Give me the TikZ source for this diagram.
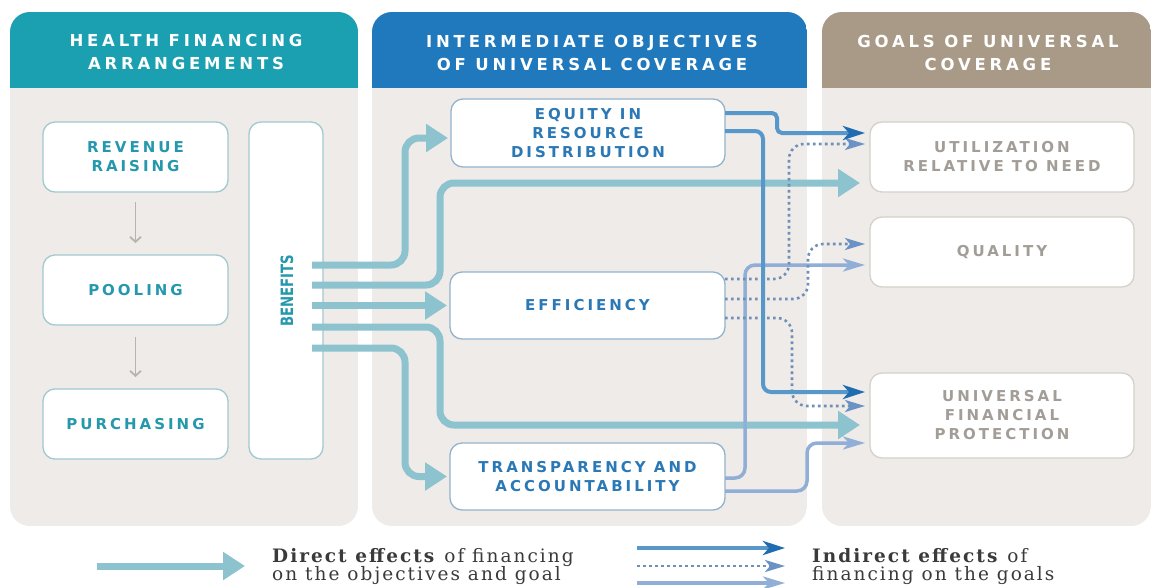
\documentclass[tikz,border=0pt]{standalone}
\usepackage{fontspec}
\usetikzlibrary{arrows.meta}
\newfontfamily\hfont[LetterSpace=23]{DejaVu Sans Bold}
\newfontfamily\bfont[LetterSpace=20]{DejaVu Sans Bold}
\newfontfamily\cfont{DejaVu Sans Bold}
\newfontfamily\sfont[LetterSpace=11]{DejaVu Serif}
\definecolor{hteal}{HTML}{1BA0B2}
\definecolor{hblue}{HTML}{1F79BC}
\definecolor{htaupe}{HTML}{A89A87}
\definecolor{panelbg}{HTML}{EEEBE8}
\definecolor{lbord}{HTML}{A2C9D0}
\definecolor{ltext}{HTML}{2598AD}
\definecolor{mbord}{HTML}{93B3CD}
\definecolor{mtext}{HTML}{2A78B5}
\definecolor{rbord}{HTML}{D5D0CA}
\definecolor{rtext}{HTML}{A29D97}
\definecolor{dircol}{HTML}{8CC3CE}
\definecolor{indline}{HTML}{5897C9}
\definecolor{indtip}{HTML}{1F6DB0}
\definecolor{dotcol}{HTML}{6F8FB8}
\definecolor{dottip}{HTML}{6A92C5}
\definecolor{lightind}{HTML}{91AED6}
\definecolor{arrgray}{HTML}{B8B3AD}
\definecolor{legtextcol}{HTML}{3A3A3A}
\begin{document}
\begin{tikzpicture}[x=1pt,y=-1pt,
  boxbase/.style={line width=1.3pt, fill=white, rounded corners=12pt, inner sep=0pt, outer sep=0pt, align=center,
    font=\bfont\fontsize{15}{19}\selectfont},
  lbox/.style={boxbase, draw=lbord, text=ltext},
  mbox/.style={boxbase, draw=mbord, text=mtext},
  rbox/.style={boxbase, draw=rbord, text=rtext},
  htext/.style={text=white, align=center, inner sep=0pt, font=\hfont\fontsize{16.5}{23}\selectfont},
  direct/.style={draw=dircol, line width=7pt, rounded corners=14pt, -{Triangle[length=22pt,width=27pt]}},
  inddark/.style={draw=indline, line width=4pt, rounded corners=8pt, -{Stealth[length=22pt,width=14pt,inset=6pt,color=indtip]}},
  inddot/.style={draw=dotcol, line width=2.6pt, dash pattern=on 2.6pt off 3.4pt, rounded corners=15pt, -{Stealth[length=20pt,width=12pt,inset=5pt,color=dottip]}},
  indlight/.style={draw=lightind, line width=3.5pt, rounded corners=10pt, -{Stealth[length=22pt,width=13pt,inset=6pt]}},
  downarr/.style={draw=arrgray, line width=1.8pt, -{Straight Barb[length=5pt,width=11pt]}},
  legtext/.style={anchor=west, align=left, inner sep=0pt, text=legtextcol, font=\sfont\fontsize{18.5}{18.5}\selectfont}
]
\useasboundingbox (0,0) rectangle (1158,587);
\fill[white] (0,0) rectangle (1158,587);
% panels
\foreach \xa/\xb/\c in {10/358/hteal, 372/807/hblue, 822/1151/htaupe} {
  \begin{scope}
    \clip[rounded corners=20pt] (\xa,12) rectangle (\xb,526);
    \fill[panelbg] (\xa,12) rectangle (\xb,526);
    \fill[\c] (\xa,12) rectangle (\xb,88);
  \end{scope}
}
\node[htext] (h1) at (186,52) {HEALTH FINANCING\\ARRANGEMENTS};
\node[htext] (h2) at (592,52.5) {INTERMEDIATE OBJECTIVES\\OF UNIVERSAL COVERAGE};
\node[htext] (h3) at (988,52.5) {GOALS OF UNIVERSAL\\COVERAGE};
% left boxes
\node[lbox, minimum width=185pt, minimum height=70pt] (rev) at (135.5,157) {REVENUE\\RAISING};
\node[lbox, minimum width=185pt, minimum height=70pt] (pool) at (135.5,290) {POOLING};
\node[lbox, minimum width=185pt, minimum height=70pt] (pur) at (135.5,424) {PURCHASING};
\node[lbox, minimum width=74pt, minimum height=337pt] (ben) at (286,290.5) {};
\node[text=ltext, inner sep=0pt, font=\cfont\fontsize{17}{17}\selectfont] (bent) at (287,291) {\rotatebox{90}{\scalebox{0.78}[1]{BENEFITS}}};
% middle boxes
\node[mbox, minimum width=274pt, minimum height=68pt] (eq) at (588,133) {EQUITY IN\\RESOURCE\\DISTRIBUTION};
\node[mbox, minimum width=275pt, minimum height=67pt] (eff) at (587.5,305.5) {EFFICIENCY};
\node[mbox, minimum width=275pt, minimum height=67pt] (tr) at (587.5,476.5) {TRANSPARENCY AND\\ACCOUNTABILITY};
% right boxes
\node[rbox, minimum width=264pt, minimum height=70pt] (ut) at (1002,157) {UTILIZATION\\RELATIVE TO NEED};
\node[rbox, minimum width=264pt, minimum height=70pt] (qu) at (1002,252) {QUALITY};
\node[rbox, minimum width=264pt, minimum height=85pt] (ufp) at (1002,415.5) {UNIVERSAL\\FINANCIAL\\PROTECTION};
% down arrows
\draw[downarr, shorten <=10pt, shorten >=12pt] (rev) -- (pool);
\draw[downarr, shorten <=12pt, shorten >=12pt] (pool) -- (pur);
% direct arrows
\coordinate (b1) at (312,265);
\coordinate (b2) at (312,285);
\coordinate (b3) at (312,305.5);
\coordinate (b4) at (312,327);
\coordinate (b5) at (312,348);
\draw[direct, shorten >=3pt] (b1) -- ++(93,0) |- (eq.west |- 0,138);
\draw[direct, shorten >=10pt] (b2) -- ++(128,0) |- (ut.west |- 0,183);
\draw[direct, shorten >=3pt] (b3) -- (eff.west);
\draw[direct, shorten >=10pt] (b4) -- ++(128,0) |- (ufp.west |- 0,425);
\draw[direct, shorten >=3pt] (b5) -- ++(93,0) |- (tr.west);
% indirect arrows
\draw[indlight, shorten >=5pt] (tr.east |- 0,478) -- ++(20,0) |- (qu.west |- 0,265);
\draw[indlight, shorten >=5pt] (tr.east |- 0,491) -- ++(82,0) |- (ufp.west |- 0,443);
\draw[inddot, shorten >=5pt] (eff.east |- 0,279) -- ++(64,0) |- (ut.west |- 0,144);
\draw[inddot, shorten >=5pt] (eff.east |- 0,299) -- ++(83,0) |- (qu.west |- 0,244);
\draw[inddot, shorten >=5pt] (eff.east |- 0,318) -- ++(67,0) |- (ufp.west |- 0,406);
\draw[inddark, shorten >=5pt] (eq.east |- 0,131) -- ++(38,0) |- (ufp.west |- 0,392);
\draw[inddark, rounded corners=5pt, shorten >=5pt] (eq.east |- 0,113) -- ++(52,0) |- (ut.west |- 0,133);
% legend
\coordinate (l1s) at (97,566);
\coordinate (l1e) at (245,566);
\draw[direct] (l1s) -- (l1e);
\node[legtext] (lt1) at (272,566.5) {\textbf{Direct effects} of financing\\on the objectives and goal};
\coordinate (l2s) at (637,548);
\coordinate (l2e) at (785,548);
\coordinate (l3s) at (637,566);
\coordinate (l3e) at (785,566);
\coordinate (l4s) at (637,583);
\coordinate (l4e) at (785,583);
\draw[inddark] (l2s) -- (l2e);
\draw[inddot] (l3s) -- (l3e);
\draw[indlight] (l4s) -- (l4e);
\node[legtext] (lt2) at (812,566.5) {\textbf{Indirect effects} of\\financing on the goals};
\end{tikzpicture}
\end{document}
